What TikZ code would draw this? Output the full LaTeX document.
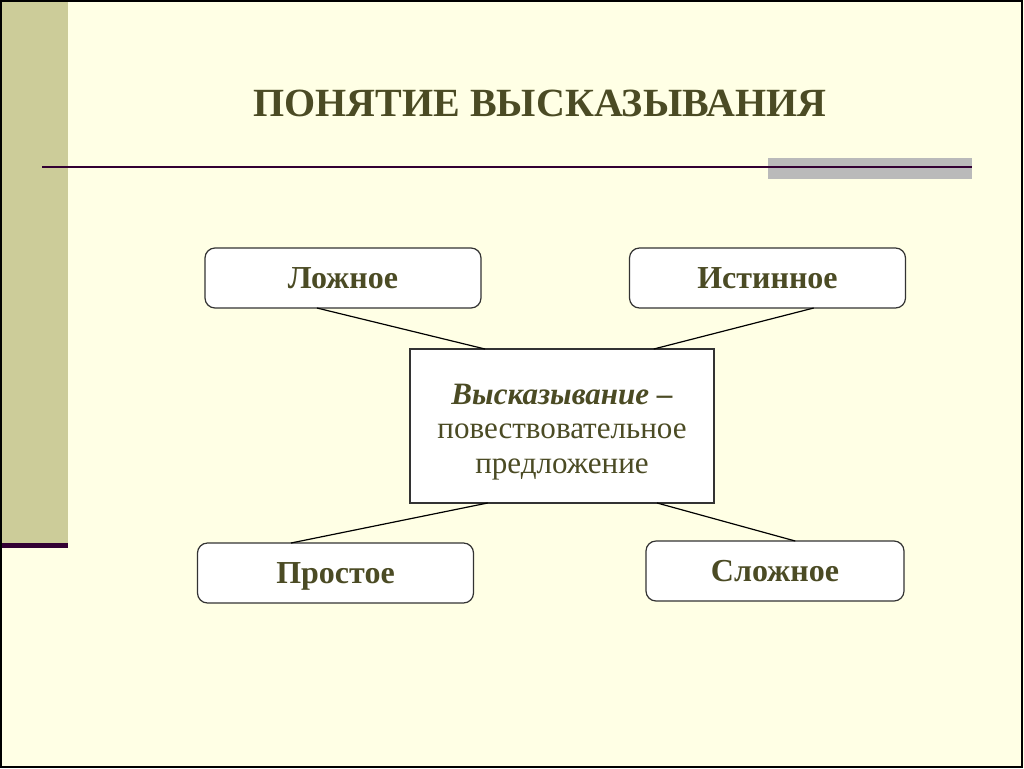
\documentclass[tikz,border=0pt]{standalone}
\usepackage{fontspec}
\setmainfont{Liberation Serif}
\usetikzlibrary{positioning}
\definecolor{slidebg}{HTML}{FFFFE5}
\definecolor{bandkhaki}{HTML}{CCCC99}
\definecolor{rulepurple}{HTML}{330033}
\definecolor{rulegray}{HTML}{BABABA}
\definecolor{textolive}{HTML}{4B4B24}
\tikzstyle{kind_box}=[draw=black!80, fill=white, rounded corners=7.5pt, line width=0.9,
    minimum width=207pt, minimum height=45pt, inner sep=0, outer sep=0,
    text height=16.8pt, text depth=1pt,
    text=textolive, font=\bfseries\fontsize{24}{28}\selectfont]
\tikzstyle{def_box}=[draw=black!80, fill=white, line width=0.9,
    minimum width=228pt, minimum height=115.5pt, inner sep=0, outer sep=0,
    text=textolive, align=center, font=\fontsize{23.3}{26}\selectfont]
\tikzstyle{link}=[draw=black, line width=0.9]

\begin{document}
\begin{tikzpicture}[x=0.75pt, y=-0.75pt]
\useasboundingbox (0,0) rectangle (1024,768);
\fill[slidebg] (0,0) rectangle (1024,768);
\fill[bandkhaki] (0,0) rectangle (68,544);
\fill[rulepurple] (0,543) rectangle (68,548);
\fill[rulegray] (768,158) rectangle (972,179);
\draw[rulepurple, line width=1.5] (42,167) -- (972,167);
\draw[black, line width=1.5] (0.75,0.75) rectangle (1022,766.5);
\node[text=textolive, font=\bfseries\fontsize{30}{34}\selectfont] (title) at (540,103) {ПОНЯТИЕ ВЫСКАЗЫВАНИЯ};
\node[def_box] (stmt) at (562,426) {\rule{0pt}{24pt}\textbf{\textit{Высказывание –}}\\повествовательное\\предложение};
\node[kind_box] (false) at (343,278) {Ложное};
\node[kind_box] (true) at (767.5,278) {Истинное};
\node[kind_box] (simple) at (335.5,573) {Простое};
\node[kind_box, minimum width=193.5pt] (complex) at (775,571) {Сложное};
\draw[link] (false.229) -- (stmt.135.7);
\draw[link] (true.327.7) -- (stmt.40.9);
\draw[link] (stmt.226.9) -- (simple.146.6);
\draw[link] (stmt.321.8) -- (complex.56.3);
\end{tikzpicture}
\end{document}
